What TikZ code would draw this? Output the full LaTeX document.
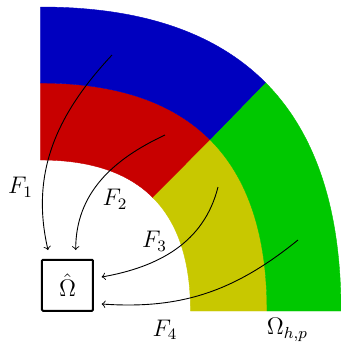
\documentclass[tikz,border=0pt]{standalone}
\definecolor{cblue}{RGB}{0,0,191}
\definecolor{cred}{RGB}{200,0,0}
\definecolor{cyellow}{RGB}{200,200,0}
\definecolor{cgreen}{RGB}{0,200,0}
\begin{document}
\begin{tikzpicture}[x=0.5pt,y=0.5pt,
  font=\fontsize{12}{14}\selectfont,
  patch/.style={fill=#1,draw=#1,line width=0.2pt},
  arr/.style={->,line width=0.45pt},
  lbl/.style={inner sep=0pt}]
\useasboundingbox (0,0) rectangle (341,345);
% patches
\path[patch=cred] (40.5,185) .. controls (90.5,185) and (128,172.42) .. (153,147.25)
  -- (210.375,205) .. controls (172.625,243) and (116,262) .. (40.5,262) -- cycle;
\path[patch=cblue] (40.5,262) .. controls (116,262) and (172.625,243) .. (210.375,205)
  -- (265.875,262) .. controls (215.79,312.67) and (140.67,338) .. (40.5,338) -- cycle;
\path[patch=cyellow] (153,147.25) .. controls (178,122.08) and (190.5,84.33) .. (190.5,34)
  -- (267,34) .. controls (267,110) and (248.125,167) .. (210.375,205) -- cycle;
\path[patch=cgreen] (210.375,205) .. controls (248.125,167) and (267,110) .. (267,34)
  -- (341,34) .. controls (341,135.33) and (315.96,211.33) .. (265.875,262) -- cycle;
% reference box
\node[draw,line width=1pt,minimum size=25.5pt,inner sep=0pt,rounded corners=0.5pt] (box) at (67.5,59.7) {$\hat\Omega$};
% arrow coordinates
\coordinate (s1) at (112,290); \coordinate (e1) at (48,95);
\coordinate (s2) at (165,210); \coordinate (e2) at (75.7,95);
\coordinate (s3) at (218,158); \coordinate (e3) at (101.7,68);
\coordinate (s4) at (298,105); \coordinate (e4) at (101.7,41);
\draw[arr] (s1) to[out=227,in=103] (e1);
\draw[arr] (s2) to[out=205,in=90] (e2);
\draw[arr] (s3) to[out=256,in=10] (e3);
\draw[arr] (s4) to[out=219,in=-4] (e4);
% labels
\node[lbl] (l1) at (20.5,158) {$F_1$};
\node[lbl] (l2) at (115,146) {$F_2$};
\node[lbl] (l3) at (154.5,104) {$F_3$};
\node[lbl] (l4) at (165,15) {$F_4$};
\node[lbl] (lo) at (287.5,15) {$\Omega_{h,p}$};
\end{tikzpicture}
\end{document}
